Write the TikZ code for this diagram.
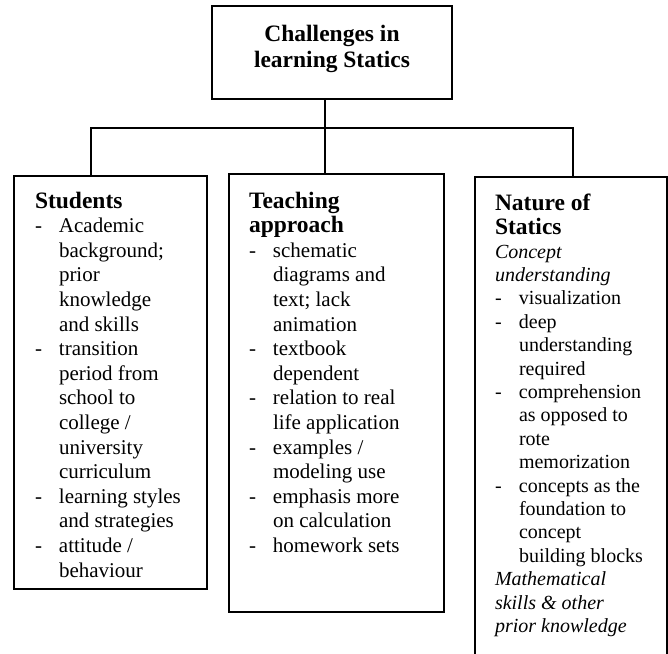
\documentclass[tikz,border=0pt]{standalone}
\usepackage{fontspec}
\setmainfont{Liberation Serif}
\tikzset{
  box/.style={draw=black, line width=1.6pt, inner sep=0pt, outer sep=0pt},
  conn/.style={draw=black, line width=1.6pt},
  txt/.style={inner sep=0pt, outer sep=0pt, anchor=base west},
}
\newcommand{\myhd}{\fontsize{23.5}{24.6}\selectfont\bfseries}
\newcommand{\mybd}{\fontsize{21}{24.6}\selectfont\mdseries}
\newcommand{\mynbd}{\fontsize{20}{23.4}\selectfont\mdseries}
\newcommand{\dashline}[1]{\makebox[24pt][l]{-}#1}
\newcommand{\contline}[1]{\hspace*{24pt}#1}
\begin{document}
\begin{tikzpicture}[x=1pt,y=-1pt]
\useasboundingbox (0,0) rectangle (668,653);
% boxes
\node[box, minimum width=240pt, minimum height=93pt] (ttlbox) at (332,52.5) {};
\node[box, minimum width=193pt, minimum height=413pt] (stu) at (110.5,382.5) {};
\node[box, minimum width=215pt, minimum height=438pt] (tch) at (336.5,393) {};
\node[box, minimum width=192pt, minimum height=483pt] (nat) at (571,418.5) {};
% connectors
\coordinate (hub) at (325,128);
\coordinate (lft) at (91,128);
\coordinate (rgt) at (573,128);
\draw[conn] (ttlbox.south -| hub) -- (tch.north -| hub);
\draw[conn] (stu.north -| lft) -- (lft) -- (rgt) -- (nat.north -| rgt);
% title
\node[inner sep=0pt, anchor=base] (ttl) at (332,41.7) {\parbox[t]{240pt}{\centering\fontsize{23.5}{26}\selectfont\bfseries Challenges in\\learning Statics}};
% students
\node[txt] (stxt) at (35,208) {\parbox[t]{180pt}{\raggedright\myhd Students\\\mybd
\dashline{Academic}\\
\contline{background;}\\
\contline{prior}\\
\contline{knowledge}\\
\contline{and skills}\\
\dashline{transition}\\
\contline{period from}\\
\contline{school to}\\
\contline{college /}\\
\contline{university}\\
\contline{curriculum}\\
\dashline{learning styles}\\
\contline{and strategies}\\
\dashline{attitude /}\\
\contline{behaviour}}};
% teaching
\node[txt] (ttxt) at (249,208) {\parbox[t]{190pt}{\raggedright\myhd Teaching\\approach\\\mybd
\dashline{schematic}\\
\contline{diagrams and}\\
\contline{text; lack}\\
\contline{animation}\\
\dashline{textbook}\\
\contline{dependent}\\
\dashline{relation to real}\\
\contline{life application}\\
\dashline{examples /}\\
\contline{modeling use}\\
\dashline{emphasis more}\\
\contline{on calculation}\\
\dashline{homework sets}}};
% nature
\node[txt] (ntxt) at (495,210) {\parbox[t]{170pt}{\raggedright\myhd Nature of\\Statics\\\mynbd
\textit{Concept}\\
\textit{understanding}\\
\dashline{visualization}\\
\dashline{deep}\\
\contline{understanding}\\
\contline{required}\\
\dashline{comprehension}\\
\contline{as opposed to}\\
\contline{rote}\\
\contline{memorization}\\
\dashline{concepts as the}\\
\contline{foundation to}\\
\contline{concept}\\
\contline{building blocks}\\
\textit{Mathematical}\\
\textit{skills \& other}\\
\textit{prior knowledge}}};
\end{tikzpicture}
\end{document}
